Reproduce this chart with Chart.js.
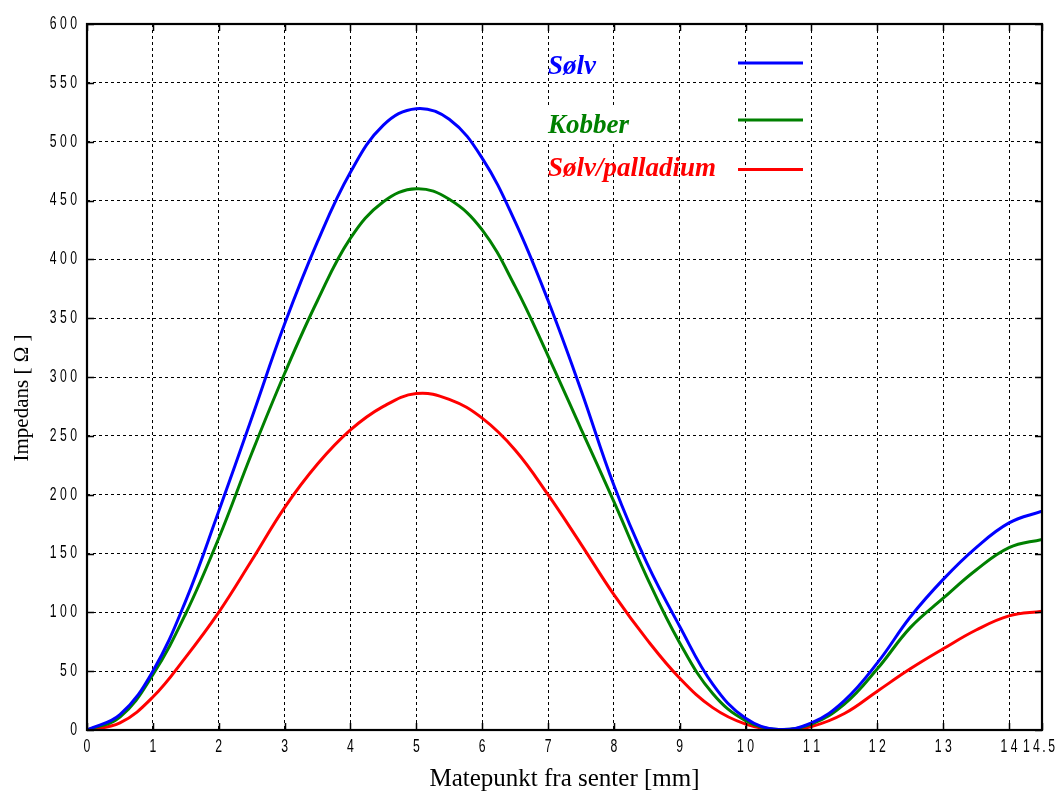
<!DOCTYPE html>
<html>
<head>
<meta charset="utf-8">
<script src="https://cdn.jsdelivr.net/npm/chart.js@4/dist/chart.umd.min.js"></script>
<style>
  html, body { margin: 0; padding: 0; background: #ffffff; }
  #wrap { width: 1060px; height: 795px; position: relative; }
</style>
</head>
<body>
<div id="wrap"><canvas id="c" width="1060" height="795"></canvas></div>
<script>
// ---- Data ----
const positions = [0, 0.5, 1, 1.5, 2, 2.5, 3, 3.5, 4, 4.5, 5, 5.5, 6, 6.5, 7, 7.5,
                   8, 8.5, 9, 9.5, 10, 10.5, 11, 11.5, 12, 12.5, 13, 13.5, 14, 14.5];
const solv = [0, 13, 50, 110, 186, 265, 345, 415, 474, 514, 528, 519, 486, 432, 365, 289,
              208, 142, 88, 39, 10, 0.5, 6, 25, 57, 96, 128, 155, 176, 186];
const kobber = [0, 11, 47, 99, 163, 235, 303, 365, 418, 449, 460, 451, 425, 377, 318, 256,
                194, 130, 74, 31, 8, 0.5, 5, 22, 52, 87, 112, 136, 155, 162];
const solvPalladium = [0, 6, 28, 62, 100, 144, 189, 226, 255, 275, 286, 281, 265, 238, 200, 158,
                       115, 77, 44, 19, 5, 0, 3, 14, 33, 52, 69, 85, 97, 101];
const seriesNames = ['Sølv', 'Kobber', 'Sølv/palladium'];
const seriesColors = ['#0000ff', '#008000', '#ff0000'];
const xTickValues = [0, 1, 2, 3, 4, 5, 6, 7, 8, 9, 10, 11, 12, 13, 14, 14.5];
const yTickValues = [0, 50, 100, 150, 200, 250, 300, 350, 400, 450, 500, 550, 600];
const xTitle = 'Matepunkt fra senter [mm]';
const yTitle = 'Impedans [ Ω ]';

const toPoints = arr => positions.map((x, i) => ({ x: x, y: arr[i] }));
const seriesData = [solv, kobber, solvPalladium];

const serif = "'Liberation Serif', 'Times New Roman', serif";
const tickFontCss = "18px 'Liberation Sans', Arial, sans-serif";
const squeeze = 0.68;   // condensed tick digits as in the reference
const spaced = v => String(v).split('').join(' ').replace(' . ', '\u2009.\u2009');

// frame, inner tick marks, condensed tick labels, y title and in-plot legend
const framePlugin = {
  id: 'frame',
  afterDatasetsDraw(chart) {
    const { ctx, chartArea: a, scales } = chart;
    ctx.save();
    ctx.strokeStyle = '#000';
    ctx.setLineDash([]);
    ctx.lineWidth = 1.5;
    const tl = 7;
    ctx.beginPath();
    scales.x.ticks.forEach(t => {
      const px = Math.round(scales.x.getPixelForValue(t.value)) + 0.5;
      ctx.moveTo(px, a.bottom); ctx.lineTo(px, a.bottom - tl);
      ctx.moveTo(px, a.top); ctx.lineTo(px, a.top + tl);
    });
    scales.y.ticks.forEach(t => {
      const py = Math.round(scales.y.getPixelForValue(t.value)) + 0.5;
      ctx.moveTo(a.left, py); ctx.lineTo(a.left + tl, py);
      ctx.moveTo(a.right, py); ctx.lineTo(a.right - tl, py);
    });
    ctx.stroke();
    ctx.lineWidth = 2.2;
    ctx.strokeRect(a.left, a.top, a.right - a.left, a.bottom - a.top);
    ctx.restore();
  },
  afterDraw(chart) {
    const { ctx, chartArea: a, scales } = chart;
    // tick labels
    ctx.save();
    ctx.fillStyle = '#000';
    ctx.font = tickFontCss;
    scales.y.ticks.forEach(t => {
      const py = scales.y.getPixelForValue(t.value);
      ctx.save();
      ctx.translate(a.left - 10, py);
      ctx.scale(squeeze, 1);
      ctx.textAlign = 'right';
      ctx.textBaseline = 'middle';
      ctx.fillText(spaced(t.value), 0, 0);
      ctx.restore();
    });
    scales.x.ticks.forEach(t => {
      let px = scales.x.getPixelForValue(t.value);
      const label = spaced(t.value);
      const w = ctx.measureText(label).width * squeeze;
      px = Math.min(px, chart.width - 5 - w / 2);
      ctx.save();
      ctx.translate(px, a.bottom + 8);
      ctx.scale(squeeze, 1);
      ctx.textAlign = 'center';
      ctx.textBaseline = 'top';
      ctx.fillText(label, 0, 0);
      ctx.restore();
    });
    ctx.restore();

    ctx.save();
    // y axis title
    ctx.translate(22, 398);
    ctx.rotate(-Math.PI / 2);
    ctx.fillStyle = '#000';
    ctx.font = "21px " + serif;
    ctx.textAlign = 'center';
    ctx.textBaseline = 'middle';
    ctx.fillText(yTitle, 0, 0);
    ctx.restore();

    ctx.save();
    // white patch behind the middle label as in the reference
    ctx.fillStyle = '#ffffff';
    ctx.fillRect(545, 108, 118, 33);
    const rows = [
      { y: 74, ly: 63 },
      { y: 133, ly: 120 },
      { y: 176, ly: 169.5 }
    ];
    ctx.font = "italic bold 27px " + serif;
    ctx.textBaseline = 'alphabetic';
    ctx.textAlign = 'left';
    rows.forEach((r, i) => {
      ctx.fillStyle = seriesColors[i];
      ctx.fillText(seriesNames[i], 548, r.y);
      ctx.strokeStyle = seriesColors[i];
      ctx.lineWidth = 3;
      ctx.setLineDash([]);
      ctx.beginPath();
      ctx.moveTo(738, r.ly); ctx.lineTo(803, r.ly);
      ctx.stroke();
    });
    ctx.restore();
  }
};

new Chart(document.getElementById('c'), {
  type: 'line',
  data: {
    datasets: seriesData.map((arr, i) => ({
      label: seriesNames[i],
      data: toPoints(arr),
      borderColor: seriesColors[i],
      backgroundColor: seriesColors[i],
      borderWidth: 3,
      pointRadius: 0,
      tension: 0.4,
      fill: false
    }))
  },
  options: {
    responsive: false,
    animation: false,
    devicePixelRatio: 1,
    layout: { padding: { top: 24, right: 18, left: 0, bottom: 0 } },
    plugins: { legend: { display: false }, tooltip: { enabled: false } },
    scales: {
      x: {
        type: 'linear',
        min: 0, max: 14.5,
        afterFit(s) { s.height = 65; s.paddingRight = 0; s.paddingLeft = 0; },
        afterBuildTicks(s) { s.ticks = xTickValues.map(v => ({ value: v })); },
        grid: { color: '#000', lineWidth: 1, drawTicks: false },
        border: { display: false, dash: [3, 3] },
        ticks: { display: false, autoSkip: false },
        title: { display: true, text: xTitle, color: '#000',
                 font: { family: serif, size: 25 },
                 padding: { top: 0, bottom: 1 } }
      },
      y: {
        type: 'linear',
        min: 0, max: 600,
        afterFit(s) { s.width = 87; s.paddingTop = 0; s.paddingBottom = 0; },
        afterBuildTicks(s) { s.ticks = yTickValues.map(v => ({ value: v })); },
        grid: { color: '#000', lineWidth: 1, drawTicks: false },
        border: { display: false, dash: [3, 3] },
        ticks: { display: false, autoSkip: false },
        title: { display: false }
      }
    }
  },
  plugins: [framePlugin]
});
</script>
</body>
</html>
